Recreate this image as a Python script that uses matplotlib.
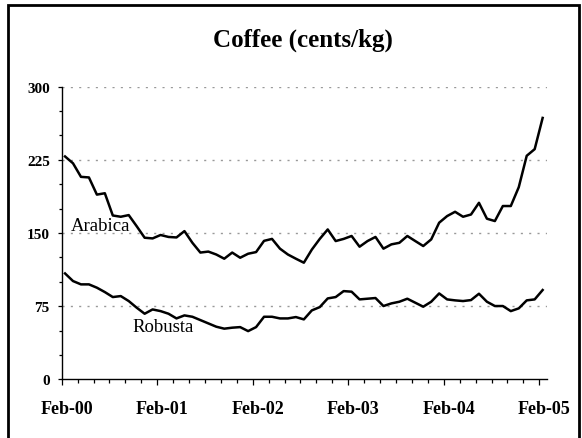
import matplotlib
matplotlib.use('Agg')
import matplotlib.pyplot as plt
import matplotlib.patches as patches
from matplotlib.transforms import ScaledTranslation
import numpy as np

# monthly prices, Feb-2000 .. Feb-2005 (cents/kg)
arabica = [228.5, 221.5, 207.6, 207.0, 189.4, 190.8, 168.0, 166.7, 168.4, 157.0,
           145.2, 144.5, 148.0, 146.0, 145.5, 152.0, 140.0, 130.0, 131.0, 128.0,
           123.7, 130.0, 124.7, 128.8, 130.5, 142.0, 144.0, 134.0, 128.0, 123.7,
           119.6, 133.0, 144.0, 153.7, 141.8, 144.0, 147.0, 136.0, 141.8, 146.0,
           134.0, 138.4, 140.0, 147.0, 141.8, 136.7, 143.5, 160.6, 167.4, 171.8,
           166.7, 169.0, 181.0, 164.7, 162.3, 177.7, 177.7, 197.0, 229.2, 236.0,
           268.0]
robusta = [108.6, 100.8, 97.4, 97.4, 94.0, 89.5, 84.4, 85.4, 80.3, 73.5,
           67.3, 71.7, 70.0, 67.3, 62.5, 65.6, 64.2, 60.8, 57.4, 54.0,
           52.0, 53.0, 53.6, 49.5, 53.6, 64.2, 64.2, 62.5, 62.5, 63.9,
           61.5, 70.7, 74.1, 83.0, 84.4, 90.5, 89.9, 82.0, 82.7, 83.4,
           75.2, 77.9, 79.6, 82.7, 78.6, 74.5, 79.6, 88.1, 82.0, 81.0,
           80.3, 81.3, 87.8, 79.6, 75.2, 75.2, 70.0, 72.8, 81.0, 82.0,
           91.6]
year_labels = ['Feb-00', 'Feb-01', 'Feb-02', 'Feb-03', 'Feb-04', 'Feb-05']
y_ticks = [0, 75, 150, 225, 300]

# x in months from the Feb-00 tick, points sit mid-month
months = np.arange(len(arabica)) + 0.42

fig = plt.figure(figsize=(5.82, 4.39), dpi=100)
ax = fig.add_axes([61.7 / 582, 1 - 380.4 / 439, 485 / 582, 292.7 / 439])

for v in y_ticks[1:]:
    ax.axhline(v, color='#999999', lw=1.0, ls=(0, (1.5, 4.5)), zorder=1)

ax.plot(months, arabica, color='black', lw=1.8, zorder=3)
ax.plot(months, robusta, color='black', lw=1.8, zorder=3)

ax.text(1.13, 153.6, 'Arabica', family='Liberation Serif', fontsize=13.5)
ax.text(8.83, 50.0, 'Robusta', family='Liberation Serif', fontsize=13.5)

ax.set_xlim(0, 60.93)
ax.set_ylim(0, 300)
ax.set_xticks(np.arange(0, 61, 12))
ax.set_xticks(np.arange(0, 61, 2), minor=True)
ax.set_xticklabels(year_labels)
ax.set_yticks(y_ticks)
ax.set_yticks(np.arange(0, 301, 25), minor=True)

for s in ['top', 'right']:
    ax.spines[s].set_visible(False)
for s in ['left', 'bottom']:
    ax.spines[s].set_linewidth(1.0)

ax.tick_params(axis='x', which='major', length=4.3, width=0.9, pad=10.5)
ax.tick_params(axis='x', which='minor', length=3.2, width=0.9)
ax.tick_params(axis='y', which='major', length=2.6, width=0.9, pad=6)
ax.tick_params(axis='y', which='minor', length=2.0, width=0.9)

for lab in ax.get_xticklabels():
    lab.set_family('Liberation Serif')
    lab.set_fontweight('bold')
    lab.set_fontsize(13)
    lab.set_transform(lab.get_transform() + ScaledTranslation(5 / 100, 0, fig.dpi_scale_trans))
for lab in ax.get_yticklabels():
    lab.set_family('Liberation Serif')
    lab.set_fontweight('bold')
    lab.set_fontsize(11)

fig.text(302.5 / 582, 1 - 46.7 / 439, 'Coffee (cents/kg)', ha='center', va='baseline',
         family='Liberation Serif', fontweight='bold', fontsize=18)

frame = patches.Rectangle((8 / 582, -0.02), 571 / 582, 1.02 - 6 / 439,
                          transform=fig.transFigure, fill=False, lw=2, ec='black', clip_on=False)
fig.patches.append(frame)

fig.savefig('out.png', dpi=100)
